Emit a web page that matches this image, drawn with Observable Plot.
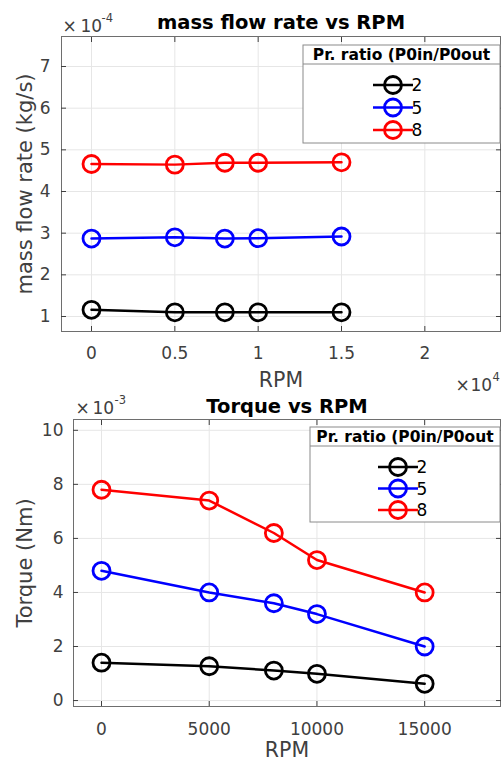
<!DOCTYPE html>
<html>
<head>
<meta charset="utf-8">
<script src="https://cdn.jsdelivr.net/npm/d3@7"></script>
<script src="https://cdn.jsdelivr.net/npm/@observablehq/plot@0.6"></script>
<style>
  html, body { margin: 0; padding: 0; background: #ffffff; }
  #charts { width: 501px; height: 763px; overflow: hidden; }
  #charts svg { display: block; }
</style>
</head>
<body>
<div id="charts"></div>
<script>
// Rotor speeds shared by both experiments
const rpm = [0, 5000, 8000, 10000, 15000];

// Pressure ratios (P0in/P0out) and their line colours
const pressureRatios = ["2", "5", "8"];
const seriesColors = ["#000000", "#0000ff", "#ff0000"];

// Mass flow rate, kg/s
const massFlowPr2 = [1.16e-4, 1.10e-4, 1.10e-4, 1.10e-4, 1.10e-4];
const massFlowPr5 = [2.87e-4, 2.90e-4, 2.87e-4, 2.88e-4, 2.92e-4];
const massFlowPr8 = [4.66e-4, 4.645e-4, 4.69e-4, 4.69e-4, 4.70e-4];

// Torque, Nm
const torquePr2 = [1.40e-3, 1.27e-3, 1.11e-3, 0.99e-3, 0.62e-3];
const torquePr5 = [4.8e-3, 4.0e-3, 3.6e-3, 3.2e-3, 2.0e-3];
const torquePr8 = [7.8e-3, 7.4e-3, 6.2e-3, 5.2e-3, 4.0e-3];

// Tick values
const massTicksX = [0, 5000, 10000, 15000, 20000];
const massTicksY = [1e-4, 2e-4, 3e-4, 4e-4, 5e-4, 6e-4, 7e-4];
const torqueTicksX = [0, 5000, 10000, 15000];
const torqueTicksY = [0, 2e-3, 4e-3, 6e-3, 8e-3, 10e-3];

const legendTitle = "Pr. ratio (P0in/P0out";
const FONT = "DejaVu Sans, Liberation Sans, Arial, sans-serif";
const INK = "#404040";

function toRows(series) {
  return series.flatMap((values, s) =>
    values.map((value, i) => ({ rpm: rpm[i], value, ratio: pressureRatios[s] }))
  );
}

const trim = (v) => +v.toFixed(6);

// "×10^n" multiplier drawn as three text pieces next to an axis
function multiplier(base, exponent, anchor, pos) {
  const common = { frameAnchor: anchor, textAnchor: "start", lineAnchor: "bottom", fill: INK };
  return [
    Plot.text(["×"], { ...common, dx: pos.dx, dy: pos.dy, fontSize: 17 }),
    Plot.text([base], { ...common, dx: pos.dx + pos.baseShift, dy: pos.dy, fontSize: 17 }),
    Plot.text([exponent], { ...common, dx: pos.dx + pos.expShift, dy: pos.dy - 10, fontSize: 11.5 })
  ];
}

function drawLegend(svg, L) {
  const g = d3.select(svg).append("g").attr("font-family", FONT);
  g.append("rect")
    .attr("x", L.x).attr("y", L.y).attr("width", L.w).attr("height", L.h)
    .attr("fill", "#ffffff").attr("stroke", "#8a8a8a").attr("stroke-width", 1);
  g.append("line")
    .attr("x1", L.x).attr("x2", L.x + L.w)
    .attr("y1", L.y + L.headerH).attr("y2", L.y + L.headerH)
    .attr("stroke", "#8a8a8a").attr("stroke-width", 1);
  g.append("text")
    .attr("x", L.x + L.w / 2).attr("y", L.y + L.headerH - 4)
    .attr("text-anchor", "middle").attr("font-weight", "bold")
    .attr("font-size", 15.5).attr("fill", "#000")
    .text(legendTitle);
  pressureRatios.forEach((name, i) => {
    const cy = L.y + L.row0 + i * L.rowGap;
    const color = seriesColors[i];
    g.append("line")
      .attr("x1", L.lineX).attr("x2", L.lineX + 40)
      .attr("y1", cy).attr("y2", cy)
      .attr("stroke", color).attr("stroke-width", 2.5);
    g.append("circle")
      .attr("cx", L.lineX + 20).attr("cy", cy).attr("r", 8.5)
      .attr("fill", "none").attr("stroke", color).attr("stroke-width", 2.8);
    g.append("text")
      .attr("x", L.lineX + 44).attr("y", cy)
      .attr("dy", "0.36em").attr("font-size", 17).attr("fill", "#000")
      .text(name);
  });
}

function chart(cfg) {
  const rows = toRows(cfg.series);
  const svg = Plot.plot({
    width: 501,
    height: cfg.height,
    marginLeft: cfg.marginLeft,
    marginRight: 1,
    marginTop: cfg.marginTop,
    marginBottom: cfg.marginBottom,
    x: { domain: cfg.xDomain },
    y: { domain: cfg.yDomain },
    color: { domain: pressureRatios, range: seriesColors },
    style: { fontFamily: FONT, color: INK, background: "transparent", overflow: "visible" },
    marks: [
      Plot.gridX(cfg.xTicks, { stroke: "#e6e6e6", strokeOpacity: 1 }),
      Plot.gridY(cfg.yTicks, { stroke: "#e6e6e6", strokeOpacity: 1 }),
      Plot.line(rows, { x: "rpm", y: "value", z: "ratio", stroke: "ratio", strokeWidth: 2.5 }),
      Plot.dot(rows, { x: "rpm", y: "value", stroke: "ratio", r: 8.5, strokeWidth: 2.8, fill: "none" }),
      Plot.frame({ stroke: "#6e6e6e", strokeWidth: 1 }),
      Plot.axisX(cfg.xTicks, { anchor: "bottom", tickSize: -5, tickPadding: cfg.xPad, tickFormat: cfg.xFormat, fontSize: 17, label: null }),
      Plot.axisX(cfg.xTicks, { anchor: "top", tickSize: -5, tickFormat: () => "", label: null }),
      Plot.axisY(cfg.yTicks, { anchor: "left", tickSize: -5, tickPadding: cfg.yPad, tickFormat: cfg.yFormat, fontSize: 17, label: null }),
      Plot.axisY(cfg.yTicks, { anchor: "right", tickSize: -5, tickFormat: () => "", label: null }),
      Plot.text([cfg.title], { frameAnchor: "top", dy: cfg.titleDy, lineAnchor: "bottom", fontWeight: "bold", fontSize: 19.5, fill: "#000" }),
      Plot.text([cfg.yLabel], { frameAnchor: "left", textAnchor: "middle", rotate: -90, dx: cfg.yLabelDx, fontSize: 21, fill: INK }),
      Plot.text(["RPM"], { frameAnchor: "bottom", dy: cfg.xLabelDy, lineAnchor: "middle", fontSize: 20.5, fill: INK }),
      ...multiplier("10", cfg.yExp, "top-left", cfg.yExpPos),
      ...(cfg.xExp ? multiplier("10", cfg.xExp, "bottom-right", cfg.xExpPos) : [])
    ]
  });
  drawLegend(svg, cfg.legend);
  return svg;
}

const root = document.getElementById("charts");

root.appendChild(chart({
  series: [massFlowPr2, massFlowPr5, massFlowPr8],
  height: 395,
  marginLeft: 61, marginTop: 36, marginBottom: 64,
  xDomain: [-1800, 24540],
  yDomain: [0.64e-4, 7.72e-4],
  xTicks: massTicksX, yTicks: massTicksY,
  xFormat: (d) => String(trim(d / 1e4)),
  yFormat: (d) => String(trim(d * 1e4)),
  xPad: 20, yPad: 16,
  title: "mass flow rate vs RPM", titleDy: -8,
  yLabel: "mass flow rate (kg/s)", yLabelDx: -36,
  xLabelDy: 49,
  yExp: "-4", yExpPos: { dx: 1, dy: -4.5, baseShift: 18, expShift: 39 },
  xExp: "4", xExpPos: { dx: -45, dy: 59, baseShift: 15, expShift: 37 },
  legend: { x: 303, y: 45, w: 197, h: 98, headerH: 19, row0: 40, rowGap: 22.5, lineX: 373 }
}));

root.appendChild(chart({
  series: [torquePr2, torquePr5, torquePr8],
  height: 368,
  marginLeft: 73, marginTop: 24, marginBottom: 57,
  xDomain: [-1300, 18520],
  yDomain: [-0.22e-3, 10.4e-3],
  xTicks: torqueTicksX, yTicks: torqueTicksY,
  xFormat: (d) => String(d),
  yFormat: (d) => String(trim(d * 1e3)),
  xPad: 21, yPad: 15,
  title: "Torque vs RPM", titleDy: -7,
  yLabel: "Torque (Nm)", yLabelDx: -48,
  xLabelDy: 44,
  yExp: "-3", yExpPos: { dx: 2, dy: -6, baseShift: 17, expShift: 39 },
  xExp: null,
  legend: { x: 310, y: 32, w: 190, h: 95, headerH: 19, row0: 40, rowGap: 21.5, lineX: 378 }
}));
</script>
</body>
</html>
